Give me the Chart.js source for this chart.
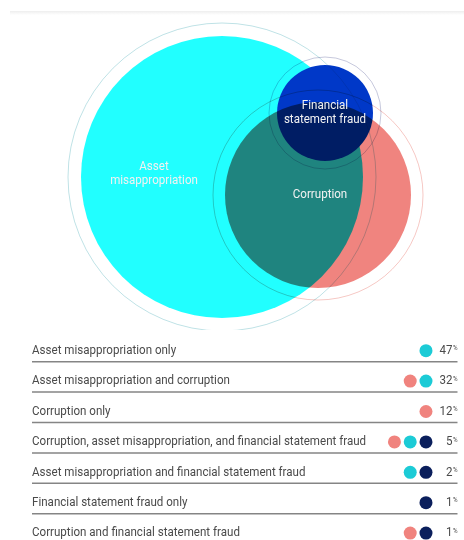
<!DOCTYPE html>
<html>
<head>
<meta charset="utf-8">
<script src="https://cdn.jsdelivr.net/npm/chart.js@4"></script>
<style>
    html, body { margin: 0; padding: 0; background: #fff; width: 464px; height: 540px; overflow: hidden; }
    .top-band { position: absolute; left: 10px; right: 0; top: 11px; height: 4px; background: linear-gradient(#eeeeee, #ffffff); }
    #vennBox { position: absolute; left: 0; top: 0; width: 464px; height: 330px; }
    #tableBox { position: absolute; left: 0; top: 330px; width: 464px; height: 210px; }
</style>
</head>
<body>
<div class="top-band"></div>
<div id="vennBox"><canvas id="venn"></canvas></div>
<div id="tableBox"><canvas id="rows"></canvas></div>
<script>
// Venn circles (centre and radius in px)
const vennNames = ['Asset misappropriation', 'Corruption', 'Financial statement fraud'];
const vennX = [222, 318, 325];
const vennY = [177, 195, 113];
const vennR = [141, 93, 48];
const ringR = [154, 105, 56];

// Table rows
const rowLabels = [
    'Asset misappropriation only',
    'Asset misappropriation and corruption',
    'Corruption only',
    'Corruption, asset misappropriation, and financial statement fraud',
    'Asset misappropriation and financial statement fraud',
    'Financial statement fraud only',
    'Corruption and financial statement fraud'
];
const rowValues = [47, 32, 12, 5, 2, 1, 1];
const hasCorruption = [0, 1, 1, 1, 0, 0, 1];
const hasAsset = [1, 1, 0, 1, 1, 0, 0];
const hasFinancial = [0, 0, 0, 1, 1, 1, 1];

const FONT = "Roboto, 'Liberation Sans', sans-serif";
const SQUEEZE = 0.89; // the original face is a condensed one

function narrowText(ctx, text, x, y) {
    ctx.save();
    ctx.translate(x, y);
    ctx.scale(SQUEEZE, 1);
    ctx.fillText(text, 0, 0);
    ctx.restore();
}

//********************************************************************************
///Venn diagram
//********************************************************************************
const vennFill = ['#21ffff', '#f0847f', '#0038c8'];
const ringColor = ['#bfe2e6', '#f6c8c4', '#c6c8dc'];

// radius in data units turned into pixels with the x scale
function pxRadius(ctx) {
    const s = ctx.chart.scales.x;
    if (!ctx.raw) return 0;
    return Math.abs(s.getPixelForValue(ctx.raw.size) - s.getPixelForValue(0));
}

const vennSets = [];
vennNames.forEach((name, i) => {
    vennSets.push({
        label: name,
        data: [{ x: vennX[i], y: vennY[i], size: vennR[i] }],
        pointBackgroundColor: vennFill[i],
        pointBorderWidth: 0,
        pointRadius: pxRadius,
        clip: false
    });
    vennSets.push({
        label: name + ' ring',
        data: [{ x: vennX[i], y: vennY[i], size: ringR[i] }],
        pointBackgroundColor: 'rgba(0,0,0,0)',
        pointBorderColor: ringColor[i],
        pointBorderWidth: 1,
        pointRadius: pxRadius,
        clip: false
    });
});

// circles are blended like ink, so overlaps darken
const multiplyPlugin = {
    id: 'multiply',
    beforeDatasetsDraw(chart) {
        chart.ctx.save();
        chart.ctx.globalCompositeOperation = 'multiply';
    },
    afterDatasetsDraw(chart) {
        chart.ctx.restore();
    }
};

const vennText = [
    { lines: ['Asset', 'misappropriation'], x: 154, y: 167 },
    { lines: ['Corruption'], x: 320, y: 195 },
    { lines: ['Financial', 'statement fraud'], x: 325, y: 106 }
];

const vennLabelPlugin = {
    id: 'vennLabels',
    afterDraw(chart) {
        const ctx = chart.ctx;
        ctx.save();
        ctx.fillStyle = '#f2f2f2';
        ctx.font = '13px ' + FONT;
        ctx.textAlign = 'center';
        ctx.textBaseline = 'middle';
        vennText.forEach(t => {
            t.lines.forEach((line, k) => narrowText(ctx, line, t.x, t.y + k * 14));
        });
        ctx.restore();
    }
};

new Chart(document.getElementById('venn'), {
    type: 'scatter',
    data: { datasets: vennSets },
    options: {
        responsive: true,
        maintainAspectRatio: false,
        animation: false,
        layout: { padding: 0 },
        plugins: { legend: { display: false }, tooltip: { enabled: false } },
        scales: {
            x: { type: 'linear', min: 0, max: 464, display: false },
            y: { type: 'linear', min: 0, max: 330, reverse: true, display: false }
        }
    },
    plugins: [multiplyPlugin, vennLabelPlugin]
});

//********************************************************************************
///Table of combinations
//********************************************************************************
const dotColor = { corruption: '#f0837e', asset: '#1ccbd6', financial: '#0b1f5c' };

function dotData(flags, slotOf) {
    const out = [];
    flags.forEach((f, i) => {
        if (f) out.push({ x: slotOf(i), y: rowLabels[i] });
    });
    return out;
}

const rowSets = [
    { label: 'Corruption', data: dotData(hasCorruption, i => -(hasAsset[i] + hasFinancial[i])), backgroundColor: dotColor.corruption },
    { label: 'Asset misappropriation', data: dotData(hasAsset, i => -hasFinancial[i]), backgroundColor: dotColor.asset },
    { label: 'Financial statement fraud', data: dotData(hasFinancial, i => 0), backgroundColor: dotColor.financial }
].map(d => Object.assign(d, { pointRadius: 6.5, borderWidth: 0, clip: false }));

const rowTextPlugin = {
    id: 'rowText',
    afterDraw(chart) {
        const ctx = chart.ctx;
        const y = chart.scales.y;
        const area = chart.chartArea;
        ctx.save();
        rowLabels.forEach((label, i) => {
            const py = y.getPixelForValue(i);
            // underline
            ctx.strokeStyle = '#858585';
            ctx.lineWidth = 1.5;
            ctx.beginPath();
            ctx.moveTo(area.left, py + 11);
            ctx.lineTo(area.right, py + 11);
            ctx.stroke();
            // label
            ctx.fillStyle = '#4a4a4a';
            ctx.font = '13px ' + FONT;
            ctx.textAlign = 'left';
            ctx.textBaseline = 'middle';
            narrowText(ctx, label, area.left, py);
            // value with small percent sign
            ctx.textAlign = 'right';
            ctx.font = '7px ' + FONT;
            const pw = ctx.measureText('%').width * SQUEEZE;
            narrowText(ctx, '%', area.right, py - 2);
            ctx.font = '13px ' + FONT;
            narrowText(ctx, String(rowValues[i]), area.right - pw - 0.5, py);
        });
        ctx.restore();
    }
};

new Chart(document.getElementById('rows'), {
    type: 'scatter',
    data: { datasets: rowSets },
    options: {
        responsive: true,
        maintainAspectRatio: false,
        animation: false,
        layout: { padding: { left: 32, right: 4, top: 20.7, bottom: 6.9 } },
        plugins: { legend: { display: false }, tooltip: { enabled: false } },
        scales: {
            x: { type: 'linear', min: -25, max: 2, display: false },
            y: { type: 'category', labels: rowLabels, display: false }
        }
    },
    plugins: [rowTextPlugin]
});
</script>
</body>
</html>
